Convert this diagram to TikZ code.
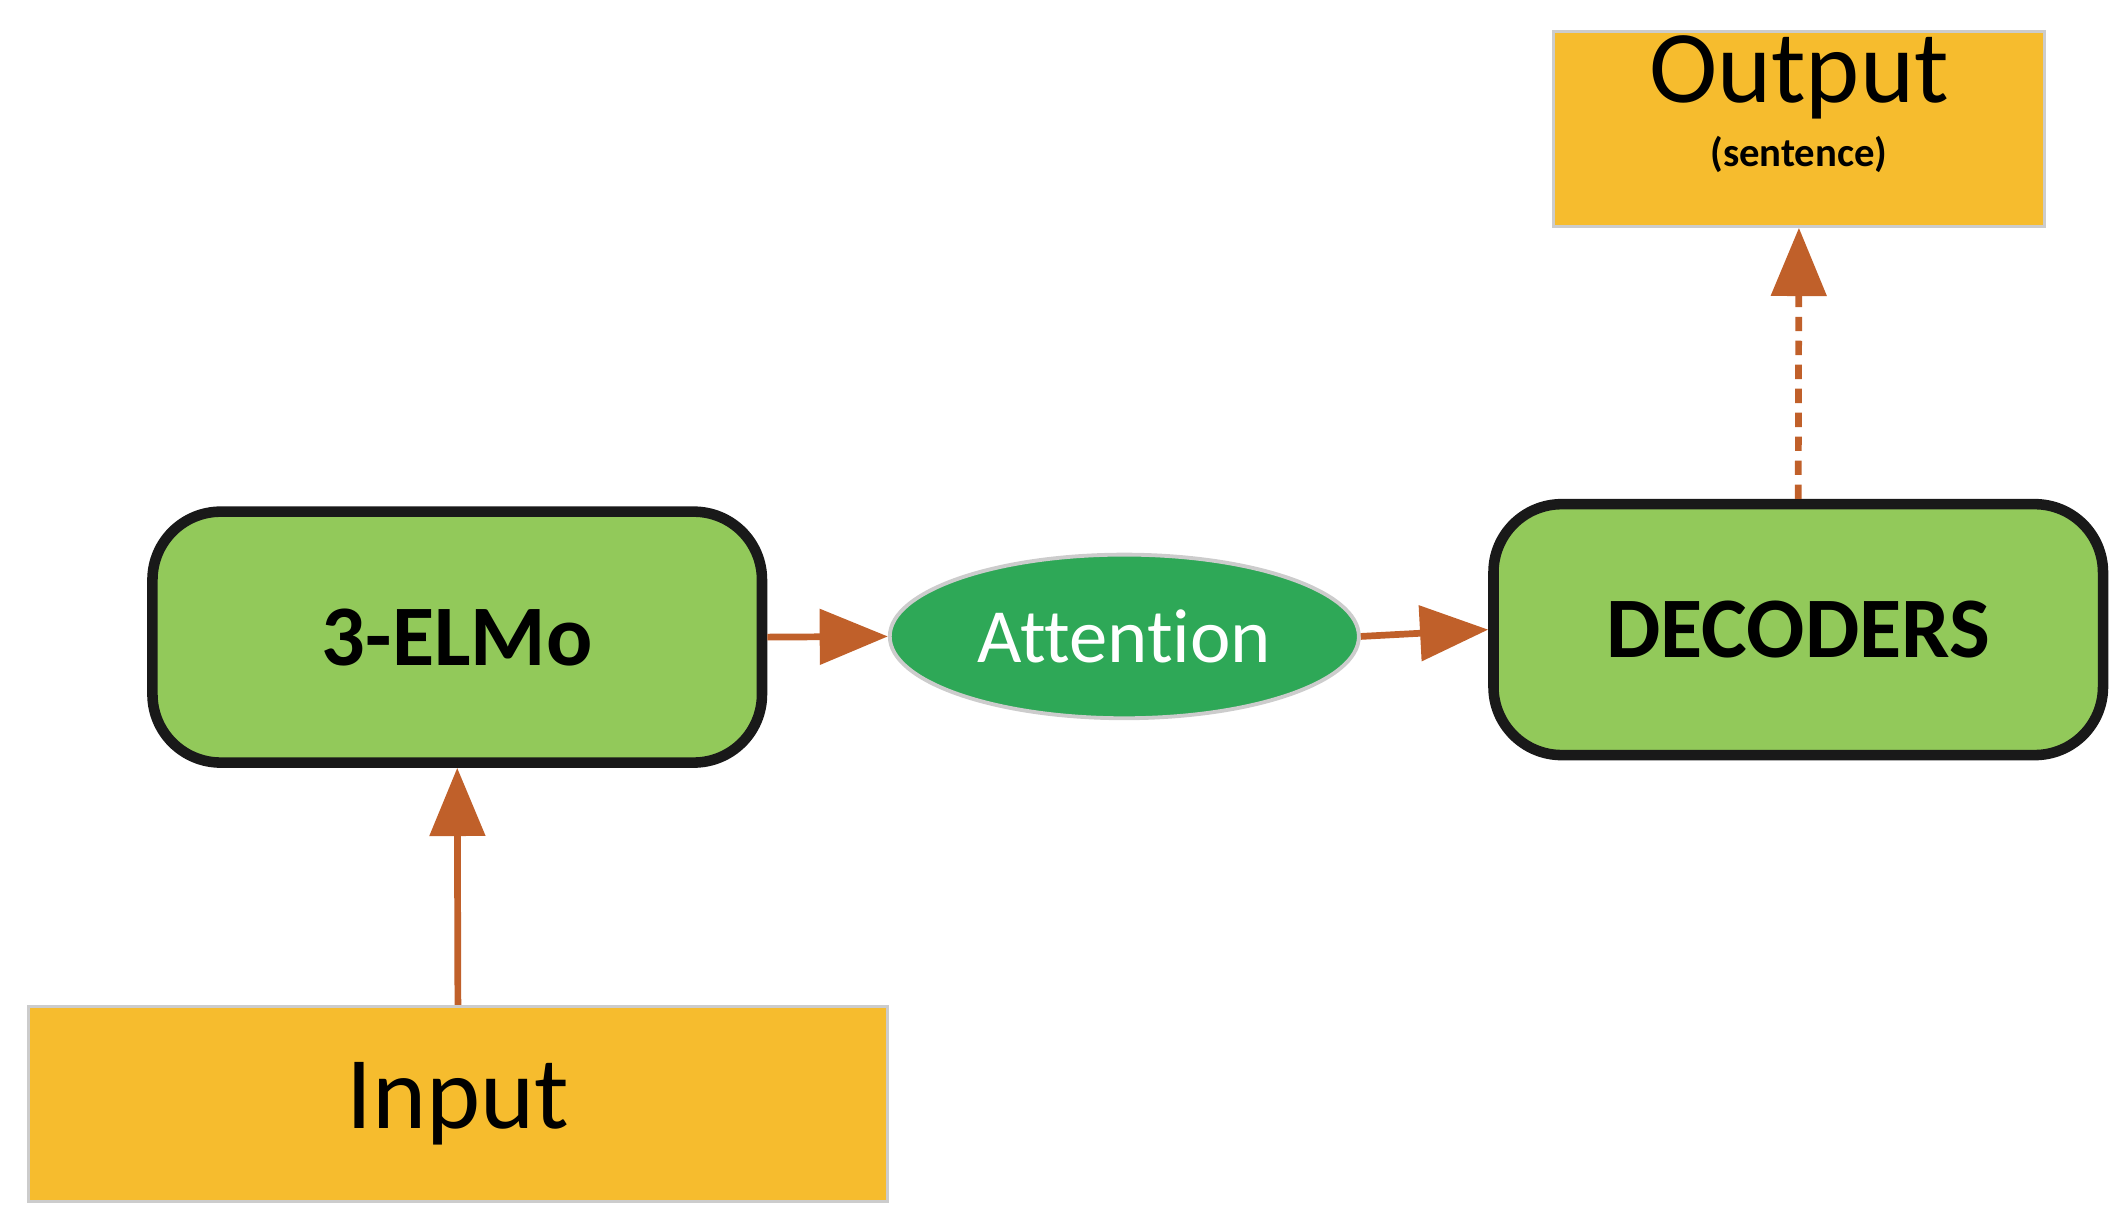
\documentclass[tikz,border=0pt]{standalone}
\usepackage{fontspec}
\setmainfont{Carlito}[Ligatures={NoCommon,NoRare}]
\usetikzlibrary{arrows.meta,shapes.geometric}
\definecolor{boxg}{HTML}{92C95A}
\definecolor{ellg}{HTML}{2EA857}
\definecolor{yel}{HTML}{F6BC2E}
\definecolor{arr}{HTML}{C0602A}
\begin{document}
\begin{tikzpicture}[x=0.01cm,y=-0.01cm,
  gbox/.style={draw=black!90,line width=2.2pt,fill=boxg,rounded corners=0.5cm,minimum width=4.47cm,minimum height=1.84cm,font=\fontsize{18}{20}\selectfont\bfseries},
  ybox/.style={draw=black!20,line width=0.6pt,fill=yel},
  con/.style={draw=arr,line width=1.4pt,-{Triangle[length=0.5cm,width=0.4cm]}}]
\useasboundingbox (0,0) rectangle (1560,894);
\node[gbox] (elmo) at (335.5,467.5) {3-ELMo};
\node[gbox] (dec) at (1319.5,462) {DECODERS};
\node[ellipse,draw=black!20,line width=0.8pt,fill=ellg,minimum width=3.44cm,minimum height=1.2cm,inner sep=0pt,text=white,font=\fontsize{16}{18}\selectfont] (att) at (825,467) {Attention};
\node[ybox,minimum width=6.3cm,minimum height=1.43cm,font=\fontsize{21.5}{24}\selectfont] (in) at (336,810) {Input};
\node[ybox,minimum width=3.6cm,minimum height=1.43cm,align=center,anchor=north] (out) at (1320,22) {};
\node[font=\fontsize{21.5}{22}\selectfont] (outt) at (1320,57) {Output};
\node[font=\fontsize{8.5}{10}\selectfont\bfseries] (outs) at (1320,113) {(sentence)};
\draw[con] (in.north) -- (elmo.south);
\draw[con] (elmo.east) -- (att.west);
\draw[con] (att.east) -- (dec.west);
\draw[con,dash pattern=on 3pt off 2pt] (dec.north) -- (out.south);
\end{tikzpicture}
\end{document}
